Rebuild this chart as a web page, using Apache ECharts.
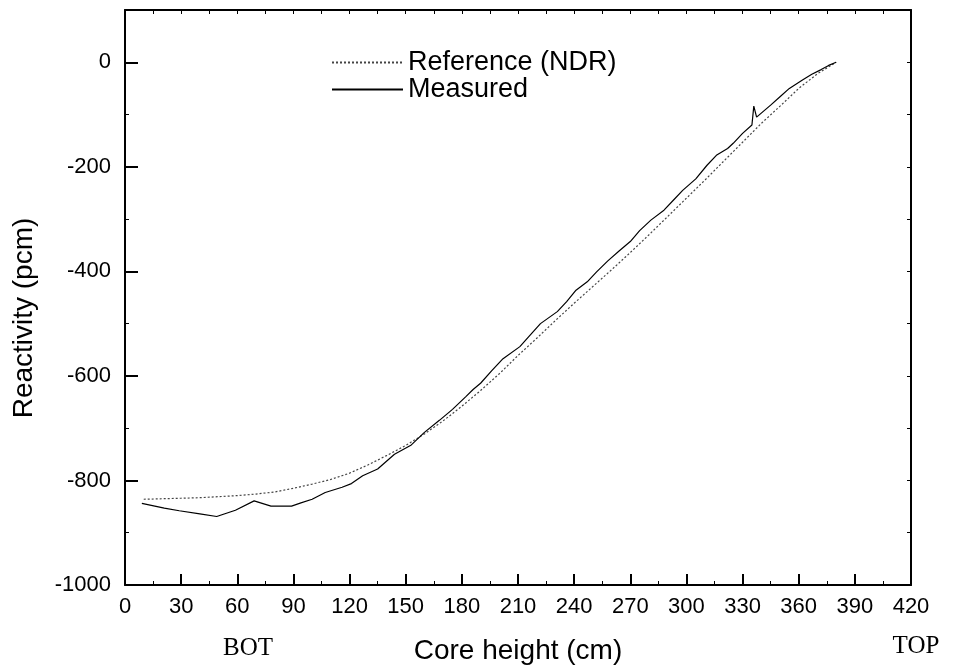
<!DOCTYPE html>
<html>
<head>
<meta charset="utf-8">
<script src="https://cdn.jsdelivr.net/npm/echarts@6/dist/echarts.min.js"></script>
<style>
html,body{margin:0;padding:0;background:#fff;}
#chart{width:958px;height:672px;}
</style>
</head>
<body>
<div id="chart"></div>
<script>
// ---- data ----
var refX = [10, 20, 30, 40, 50, 60, 70, 80, 90, 100, 110, 120, 130, 140, 150, 160, 170, 180, 190, 200,
            210, 220, 230, 240, 250, 260, 270, 280, 290, 300, 310, 320, 330, 340, 350, 360, 370, 380];
var refY = [-836, -835, -834, -833, -831, -829, -826, -822, -815, -807, -798, -786, -770, -752, -733, -711, -686, -658, -628, -596,
            -561, -528, -494, -461, -429, -397, -364, -330, -295, -260, -225, -189, -153, -117, -84, -50, -22, 0];

var measX = [9, 21, 29, 40, 49, 59, 69, 78, 89, 94, 100, 107, 116, 121, 127, 135, 144, 153, 160, 168,
             175, 182, 186, 190, 196, 202, 211, 216, 222, 231, 236, 241, 247, 252, 258, 264, 270, 275, 281, 288,
             293, 298, 305, 311, 316, 322, 325, 330, 335, 336, 337.5, 345, 350, 355, 362, 367, 372, 376, 380];
var measY = [-844, -853, -858, -864, -869, -857, -839, -849, -849, -843, -836, -823, -813, -806, -791, -778, -750, -732, -708, -685,
             -664, -640, -626, -614, -590, -567, -544, -524, -500, -477, -458, -436, -420, -401, -380, -361, -343, -322, -302, -283,
             -264, -245, -223, -197, -178, -165, -155, -136, -120, -84, -105, -82, -66, -50, -34, -23, -14, -6, 0];

var xTicks = [0, 30, 60, 90, 120, 150, 180, 210, 240, 270, 300, 330, 360, 390, 420];
var xMinorTicks = [15, 45, 75, 105, 135, 165, 195, 225, 255, 285, 315, 345, 375, 405];
var yTicks = [-1000, -800, -600, -400, -200, 0];
var yMinorTicks = [-900, -700, -500, -300, -100];
var topTicks = [0, 15, 30, 45, 60, 75, 90, 105, 120, 135, 150, 165, 180, 195, 210, 225, 240, 255, 270, 285, 300, 315, 330, 345, 360, 375, 390, 405, 420];
var rightTicks = [-1000, -900, -800, -700, -600, -500, -400, -300, -200, -100, 0, 100];

var seriesNames = ['Reference (NDR)', 'Measured'];
var xTitle = 'Core height (cm)';
var yTitle = 'Reactivity (pcm)';

function zip(a, b) { return a.map(function (v, i) { return [v, b[i]]; }); }

var chart = echarts.init(document.getElementById('chart'), null, {renderer: 'canvas'});
var FONT = '"Liberation Sans", Arial, sans-serif';
var lineAxis = {show: true, onZero: false, lineStyle: {color: '#000', width: 2}};
var plain = function (v) { return String(v); };

var option = {
  backgroundColor: '#fff',
  animation: false,
  grid: {left: 125, right: 47, top: 10, bottom: 87, containLabel: false},
  legend: {
    show: true,
    orient: 'vertical',
    left: 326,
    top: 44,
    itemWidth: 71,
    itemHeight: 14,
    itemGap: 0,
    data: seriesNames,
    itemStyle: {opacity: 0},
    textStyle: {fontFamily: FONT, fontSize: 27, color: '#000', lineHeight: 27, padding: [0, 0, 0, 0]}
  },
  xAxis: [
    {
      type: 'value', position: 'bottom', min: 0, max: 420, interval: 30,
      axisLine: lineAxis,
      axisTick: {show: true, inside: true, length: 11, customValues: xTicks, lineStyle: {color: '#000', width: 2}},
      axisLabel: {show: true, customValues: xTicks, formatter: plain, margin: 11, fontFamily: FONT, fontSize: 22, color: '#000'},
      splitLine: {show: false},
      name: xTitle, nameLocation: 'middle', nameGap: 52,
      nameTextStyle: {fontFamily: FONT, fontSize: 28, color: '#000'}
    },
    {
      type: 'value', position: 'top', min: 0, max: 420, interval: 15,
      axisLine: lineAxis,
      axisTick: {show: true, inside: true, length: 4, customValues: topTicks, lineStyle: {color: '#000', width: 1}},
      axisLabel: {show: false},
      splitLine: {show: false}
    },
    {
      type: 'value', position: 'bottom', min: 0, max: 420, interval: 15,
      axisLine: {show: false, onZero: false},
      axisTick: {show: true, inside: true, length: 4, customValues: xMinorTicks, lineStyle: {color: '#000', width: 1}},
      axisLabel: {show: false},
      splitLine: {show: false}
    }
  ],
  yAxis: [
    {
      type: 'value', position: 'left', min: -1000, max: 100, interval: 100,
      axisLine: lineAxis,
      axisTick: {show: true, inside: true, length: 13, customValues: yTicks, lineStyle: {color: '#000', width: 2}},
      axisLabel: {show: true, customValues: yTicks, formatter: plain, margin: 14, fontFamily: FONT, fontSize: 22, color: '#000'},
      splitLine: {show: false}
    },
    {
      type: 'value', position: 'right', min: -1000, max: 100, interval: 100,
      axisLine: lineAxis,
      axisTick: {show: true, inside: true, length: 4, customValues: rightTicks, lineStyle: {color: '#000', width: 1}},
      axisLabel: {show: false},
      splitLine: {show: false}
    },
    {
      type: 'value', position: 'left', min: -1000, max: 100, interval: 100,
      axisLine: {show: false, onZero: false},
      axisTick: {show: true, inside: true, length: 4, customValues: yMinorTicks, lineStyle: {color: '#000', width: 1}},
      axisLabel: {show: false},
      splitLine: {show: false}
    }
  ],
  graphic: [
    {
      type: 'text', x: 24, y: 318, rotation: Math.PI / 2,
      style: {text: yTitle, fontFamily: FONT, fontSize: 28, fill: '#000', align: 'center', verticalAlign: 'middle'}
    },
    {
      type: 'text', x: 248, y: 648,
      style: {text: 'BOT', fontFamily: '"Liberation Serif", "Times New Roman", serif', fontSize: 25, fill: '#000', align: 'center', verticalAlign: 'middle'}
    },
    {
      type: 'text', x: 916, y: 646,
      style: {text: 'TOP', fontFamily: '"Liberation Serif", "Times New Roman", serif', fontSize: 25, fill: '#000', align: 'center', verticalAlign: 'middle'}
    }
  ],
  series: [
    {
      name: seriesNames[0], type: 'line', xAxisIndex: 0, yAxisIndex: 0,
      data: zip(refX, refY), showSymbol: false, symbol: 'none', smooth: false,
      lineStyle: {color: '#444', width: 1.2, type: [2, 2]},
      itemStyle: {color: '#444'}
    },
    {
      name: seriesNames[1], type: 'line', xAxisIndex: 0, yAxisIndex: 0,
      data: zip(measX, measY), showSymbol: false, symbol: 'none', smooth: false,
      lineStyle: {color: '#000', width: 1.2, type: 'solid'},
      itemStyle: {color: '#000'}
    }
  ]
};
chart.setOption(option);
</script>
</body>
</html>
